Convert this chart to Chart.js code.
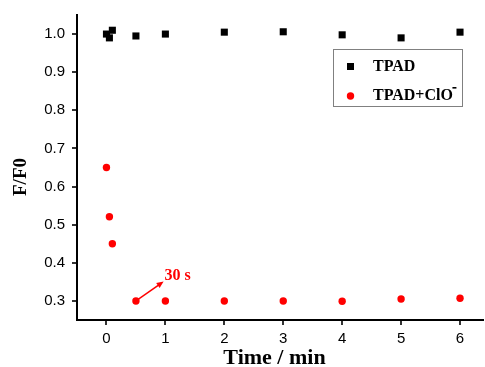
<!DOCTYPE html>
<html>
<head>
<meta charset="utf-8">
<script src="https://cdn.jsdelivr.net/npm/chart.js@4.4.1/dist/chart.umd.min.js"></script>
<style>
  html, body { margin: 0; padding: 0; background: #fff; overflow: hidden; }
</style>
</head>
<body>
<!-- a few px wider than the window: the x axis runs right up to the edge, as in the source figure -->
<canvas id="decay" width="488" height="367"></canvas>
<script>
// values (time in min, F/F0)
const timeTPAD = [0, 0.05, 0.1, 0.5, 1, 2, 3, 4, 5, 6]
const ratioTPAD = [1.0, 0.99, 1.01, 0.995, 1.0, 1.005, 1.006, 0.998, 0.99, 1.005]
const timeClO = [0, 0.05, 0.1, 0.5, 1, 2, 3, 4, 5, 6]
const ratioClO = [0.65, 0.521, 0.45, 0.30, 0.30, 0.30, 0.30, 0.299, 0.305, 0.307]
const seriesNames = ['TPAD', 'TPAD+ClO']
const seriesColors = ['#000000', '#ff0000']

// "30 s" note, in data units
const arrowFrom = { x: 0.5, y: 0.3 }
const arrowTo = { x: 0.97, y: 0.351 }
const noteAt = { x: 0.985, y: 0.366 }
const noteText = '30 s'

const ctx = document.getElementById('decay')

const isMajor = (v, step) => Math.abs(v / step - Math.round(v / step)) < 1e-6

// short ticks on the half steps, longer ones on the labelled values
const tickMarks = {
  id: 'tickMarks',
  afterDraw(chart) {
    const c = chart.ctx
    const { x, y } = chart.scales
    c.save()
    c.strokeStyle = '#000'
    c.lineWidth = 1.6
    for (const t of x.ticks) {
      const px = Math.round(x.getPixelForValue(t.value))
      const len = isMajor(t.value, 1) ? 5 : 3
      c.beginPath()
      c.moveTo(px, x.top)
      c.lineTo(px, x.top + len)
      c.stroke()
    }
    for (const t of y.ticks) {
      const py = Math.round(y.getPixelForValue(t.value))
      const len = isMajor(t.value, 0.1) ? 5 : 3
      c.beginPath()
      c.moveTo(y.right - len, py)
      c.lineTo(y.right, py)
      c.stroke()
    }
    c.restore()
  }
}

const arrowNote = {
  id: 'arrowNote',
  afterDatasetsDraw(chart) {
    const c = chart.ctx
    const { x, y } = chart.scales
    const x0 = x.getPixelForValue(arrowFrom.x), y0 = y.getPixelForValue(arrowFrom.y)
    const x1 = x.getPixelForValue(arrowTo.x), y1 = y.getPixelForValue(arrowTo.y)
    const ang = Math.atan2(y1 - y0, x1 - x0)
    c.save()
    c.strokeStyle = seriesColors[1]
    c.fillStyle = seriesColors[1]
    c.lineWidth = 1.5
    c.beginPath()
    c.moveTo(x0, y0)
    c.lineTo(x1 - 4 * Math.cos(ang), y1 - 4 * Math.sin(ang))
    c.stroke()
    c.beginPath()
    c.moveTo(x1, y1)
    c.lineTo(x1 - 7 * Math.cos(ang) + 3 * Math.sin(ang), y1 - 7 * Math.sin(ang) - 3 * Math.cos(ang))
    c.lineTo(x1 - 7 * Math.cos(ang) - 3 * Math.sin(ang), y1 - 7 * Math.sin(ang) + 3 * Math.cos(ang))
    c.closePath()
    c.fill()
    c.font = 'bold 16px "Liberation Serif", "Times New Roman", serif'
    c.textBaseline = 'middle'
    c.textAlign = 'left'
    c.fillText(noteText, x.getPixelForValue(noteAt.x), y.getPixelForValue(noteAt.y))
    c.restore()
  }
}

// boxed legend inside the plot, upper right
const boxLegend = {
  id: 'boxLegend',
  afterDraw(chart) {
    const c = chart.ctx
    const area = chart.chartArea
    const left = area.right - 150, top = area.top + 34
    const w = 129, h = 57
    c.save()
    c.strokeStyle = '#808080'
    c.lineWidth = 1
    c.strokeRect(left + 0.5, top + 0.5, w, h)
    c.font = 'bold 16px "Liberation Serif", "Times New Roman", serif'
    c.textBaseline = 'middle'
    c.textAlign = 'left'
    chart.data.datasets.forEach((ds, i) => {
      const cy = top + 17.5 + i * 29.5
      const cx = left + 17.5
      c.fillStyle = ds.backgroundColor
      if (ds.pointStyle === 'rect') {
        c.fillRect(cx - 3.5, cy - 3.5, 7, 7)
      } else {
        c.beginPath()
        c.arc(cx, cy, 3.7, 0, Math.PI * 2)
        c.fill()
      }
      c.fillStyle = '#000'
      c.fillText(ds.label, left + 40, cy)
      if (i === 1) {
        const tw = c.measureText(ds.label).width
        c.fillRect(left + 40 + tw - 0.5, cy - 9, 4, 1.6)
      }
    })
    c.restore()
  }
}

const chart = new Chart(ctx, {
  type: 'scatter',
  data: {
    datasets: [
      {
        label: seriesNames[0],
        data: timeTPAD.map((t, i) => ({ x: t, y: ratioTPAD[i] })),
        pointStyle: 'rect',
        pointRadius: 5,
        backgroundColor: seriesColors[0],
        borderColor: seriesColors[0],
        borderWidth: 0
      },
      {
        label: seriesNames[1],
        data: timeClO.map((t, i) => ({ x: t, y: ratioClO[i] })),
        pointStyle: 'circle',
        pointRadius: 3.7,
        backgroundColor: seriesColors[1],
        borderColor: seriesColors[1],
        borderWidth: 0
      }
    ]
  },
  options: {
    responsive: false,
    animation: false,
    layout: { padding: { top: 15, right: 2, bottom: 0, left: 0 } },
    plugins: {
      legend: { display: false },
      tooltip: { enabled: false }
    },
    scales: {
      x: {
        type: 'linear',
        min: -0.5,
        max: 6.39,
        afterFit(s) {
          s.height = 47
          s.paddingLeft = 0
          s.paddingRight = 0
        },
        ticks: {
          stepSize: 0.5,
          includeBounds: false,
          autoSkip: false,
          maxRotation: 0,
          padding: 4,
          color: '#000',
          font: { family: '"Liberation Sans", Arial, sans-serif', size: 15 },
          callback: v => isMajor(v, 1) ? String(Math.round(v)) : null
        },
        grid: { drawOnChartArea: false, color: 'rgba(0,0,0,0)', tickLength: 6 },
        border: { display: true, color: '#000', width: 2 },
        title: {
          display: true,
          text: 'Time / min\u00a0\u00a0',
          color: '#000',
          padding: 0,
          font: { family: '"Liberation Serif", "Times New Roman", serif', size: 22, weight: 'bold', lineHeight: 0.8 }
        }
      },
      y: {
        min: 0.25,
        max: 1.05,
        afterFit(s) { s.width = 77 },
        ticks: {
          stepSize: 0.05,
          autoSkip: false,
          padding: 6,
          color: '#000',
          font: { family: '"Liberation Sans", Arial, sans-serif', size: 15 },
          callback: v => isMajor(v, 0.1) ? v.toFixed(1) : null
        },
        grid: { drawOnChartArea: false, color: 'rgba(0,0,0,0)', tickLength: 6 },
        border: { display: true, color: '#000', width: 2 },
        title: {
          display: true,
          text: 'F/F0\u00a0\u00a0\u00a0\u00a0',
          color: '#000',
          padding: { top: 12, bottom: 0 },
          font: { family: '"Liberation Serif", "Times New Roman", serif', size: 19, weight: 'bold', lineHeight: 1 }
        }
      }
    }
  },
  plugins: [tickMarks, arrowNote, boxLegend]
})
</script>
</body>
</html>
